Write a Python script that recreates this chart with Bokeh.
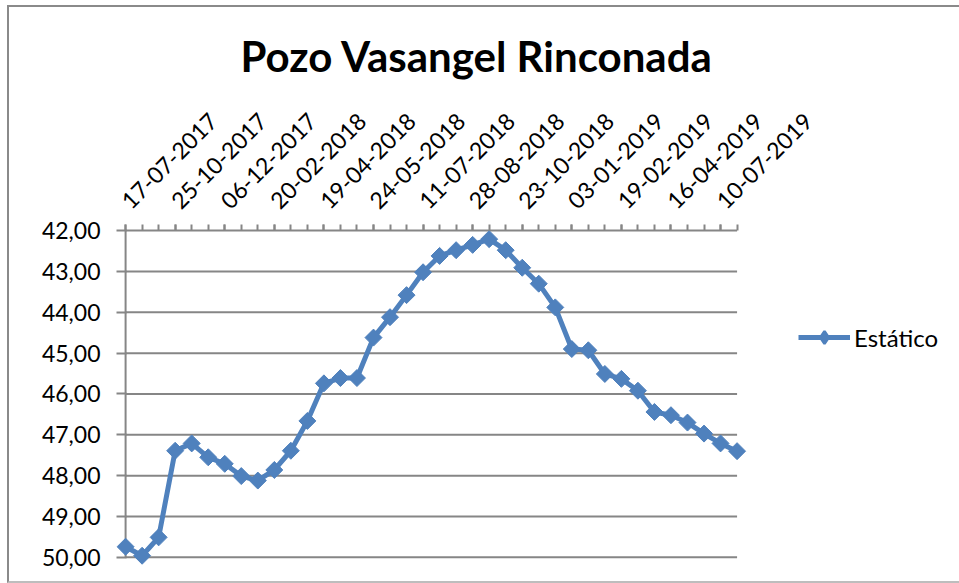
import math
from bokeh.plotting import figure
from bokeh.models import (Range1d, FixedTicker, Legend, LegendItem,
                          CustomJSTickFormatter, ColumnDataSource)
from bokeh.embed import file_html
from bokeh.resources import INLINE

# ---- data ----
values = [49.74, 49.96, 49.51, 47.39, 47.21, 47.55, 47.71, 48.01, 48.12, 47.86,
          47.39, 46.66, 45.74, 45.61, 45.61, 44.62, 44.12, 43.58, 43.02, 42.62,
          42.48, 42.35, 42.21, 42.48, 42.91, 43.30, 43.88, 44.90, 44.93, 45.51,
          45.63, 45.92, 46.44, 46.52, 46.70, 46.97, 47.21, 47.40]
tick_labels = ["17-07-2017", "25-10-2017", "06-12-2017", "20-02-2018", "19-04-2018",
               "24-05-2018", "11-07-2018", "28-08-2018", "23-10-2018", "03-01-2019",
               "19-02-2019", "16-04-2019", "10-07-2019"]
label_step = 3
y_ticks = [42, 43, 44, 45, 46, 47, 48, 49, 50]
series_name = "Estático"
title_text = "Pozo Vasangel Rinconada"

idx = list(range(len(values)))
tick_pos = [i * label_step for i in range(len(tick_labels))]
x_last = len(values) - 1

FONT = "Lato"
BLUE = "#4F81BD"
GRAY = "#868686"

src = ColumnDataSource(dict(x=idx, y=values))

p = figure(width=952, height=578, output_backend="svg", toolbar_location=None,
           x_axis_location="above",
           x_range=Range1d(-0.55, 50.58), y_range=Range1d(50.297, 41.851),
           min_border_left=107, min_border_top=217, min_border_right=0,
           min_border_bottom=16)
p.styles = {"margin-left": "7px", "margin-top": "5px",
            "border-left": "2px solid #8a8a8a", "border-top": "2px solid #8a8a8a",
            "border-bottom": "2px solid #bdbdbd"}
p.outline_line_color = None

p.title.text = title_text
p.title.align = "left"
p.title.offset = 124
p.title.standoff = 42
p.title.text_font = FONT
p.title.text_font_size = "42px"
p.title.text_font_style = "bold"
p.title.text_color = "black"

# horizontal grid lines and axis lines spanning the category extent
grid_src = ColumnDataSource(dict(x0=[0] * len(y_ticks), x1=[x_last] * len(y_ticks),
                                 y=y_ticks))
p.segment("x0", "y", "x1", "y", source=grid_src, line_color=GRAY, line_width=2)
p.segment(x0=0, y0=y_ticks[0], x1=0, y1=y_ticks[-1], line_color=GRAY, line_width=2)

r_line = p.line("x", "y", source=src, line_color=BLUE, line_width=5)
r_pts = p.scatter("x", "y", source=src, marker="square", angle=math.pi / 4,
                  size=12, fill_color=BLUE, line_color=BLUE)
leg_src = ColumnDataSource(dict(x=[float("nan")], y=[float("nan")]))
r_leg = p.scatter("x", "y", source=leg_src, marker="diamond", size=17,
                  fill_color=BLUE, line_color=BLUE, line_width=2.5)

# x axis (top)
xa = p.xaxis[0]
xa.ticker = FixedTicker(ticks=tick_pos, minor_ticks=idx)
xa.major_label_overrides = {t: l for t, l in zip(tick_pos, tick_labels)}
xa.major_label_orientation = math.pi / 4
xa.major_label_text_font = FONT
xa.major_label_text_font_size = "23px"
xa.major_label_text_color = "black"
xa.axis_line_color = None
xa.major_tick_line_color = GRAY
xa.minor_tick_line_color = GRAY
xa.major_tick_line_width = 2
xa.minor_tick_line_width = 2
xa.major_tick_out = 0
xa.major_tick_in = 6
xa.minor_tick_out = 0
xa.minor_tick_in = 6
xa.major_label_standoff = 20

# y axis
ya = p.yaxis[0]
ya.ticker = FixedTicker(ticks=y_ticks)
ya.formatter = CustomJSTickFormatter(code="return tick.toFixed(2).replace('.', ',');")
ya.major_label_text_font = FONT
ya.major_label_text_font_size = "23px"
ya.major_label_text_color = "black"
ya.axis_line_color = None
ya.major_tick_line_color = GRAY
ya.major_tick_line_width = 2
ya.major_tick_out = 0
ya.major_tick_in = 10
ya.minor_tick_line_color = None
ya.major_label_standoff = 16

p.xgrid.grid_line_color = None
p.ygrid.grid_line_color = None

legend = Legend(items=[LegendItem(label=series_name, renderers=[r_line, r_leg])],
                location=(682, 216), border_line_color=None,
                background_fill_alpha=0,
                label_text_font=FONT, label_text_font_size="24px",
                label_text_color="black", glyph_width=52, glyph_height=32,
                label_standoff=4, padding=0, margin=0)
p.add_layout(legend, "center")

open("out.html", "w").write(file_html(p, INLINE))
